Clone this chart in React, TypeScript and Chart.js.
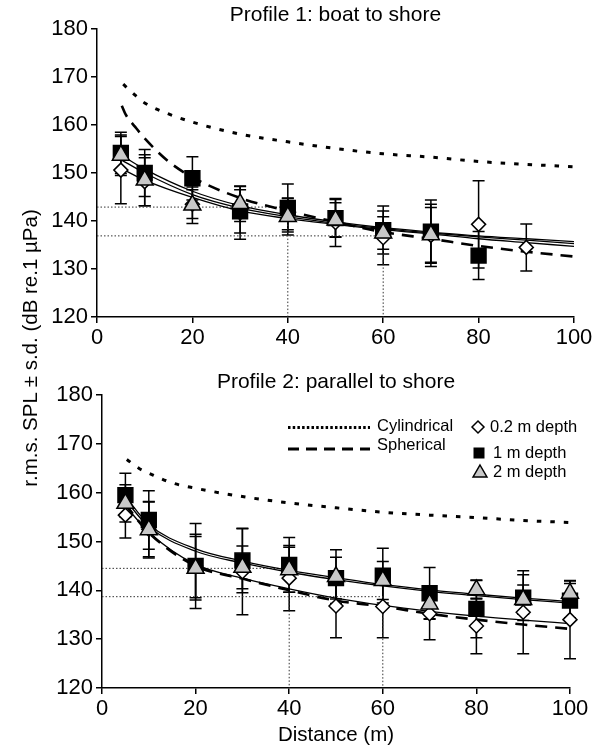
import React, { useEffect, useRef } from 'react';
import { Chart, registerables } from 'chart.js';

Chart.register(...registerables);

const FONT = '"Liberation Sans", Arial, Helvetica, sans-serif';

// ---------- Profile 1: boat to shore ----------
const p1Dist02 = [5, 10, 20, 30, 40, 50, 60, 70, 80, 90];
const p1Mean02 = [150.6, 148.2, 143.5, 141.7, 141.5, 139.7, 136.5, 137.0, 139.3, 134.5];
const p1Sd02 = [7.0, 5.0, 3.0, 5.5, 3.3, 5.0, 5.6, 6.5, 9.1, 4.9];

const p1Dist1 = [5, 10, 20, 30, 40, 50, 60, 70, 80];
const p1Mean1 = [154.2, 150.0, 148.9, 142.0, 142.7, 140.6, 138.1, 137.8, 132.8];
const p1Sd1 = [4.3, 4.9, 4.5, 4.5, 5.0, 3.9, 5.0, 6.6, 5.0];

const p1Dist2 = [5, 10, 20, 30, 40, 50, 60, 70];
const p1Mean2 = [153.7, 148.5, 143.3, 143.6, 140.9, 140.2, 137.5, 137.1];
const p1Sd2 = [4.2, 5.3, 3.8, 3.7, 3.8, 3.6, 3.4, 5.7];

const fitX = [5, 10, 20, 30, 40, 50, 60, 70, 80, 90, 100];
const p1Fit1 = [153.8, 150.8, 146.2, 143.2, 141.3, 139.8, 138.6, 137.7, 136.9, 136.3, 135.7];
const p1Fit2 = [152.8, 150.0, 145.5, 142.7, 140.9, 139.5, 138.4, 137.5, 136.7, 136.0, 135.3];
const p1Fit02 = [151.0, 148.5, 144.9, 142.1, 140.5, 139.3, 138.2, 137.3, 136.3, 135.5, 134.7];

const p1CylX = [5.5, 8, 10, 15, 20, 30, 40, 50, 60, 70, 80, 90, 100];
const p1Cyl = [168.5, 166.2, 164.6, 162.3, 160.6, 158.1, 156.5, 155.1, 154.0, 153.3, 152.4, 151.8, 151.3];
const p1SphX = [5.2, 6, 8, 10, 15, 20, 30, 40, 50, 60, 70, 80, 90, 100];
const p1Sph = [164.0, 162.2, 159.6, 157.2, 152.4, 149.1, 144.8, 142.1, 139.8, 137.7, 136.3, 134.8, 133.6, 132.6];

const p1RefLevels = [142.9, 136.9];
const p1RefDist = [40, 60];

// ---------- Profile 2: parallel to shore ----------
const p2Dist = [5, 10, 20, 30, 40, 50, 60, 70, 80, 90, 100];
const p2Mean02 = [155.4, 152.5, 145.0, 143.8, 142.5, 136.8, 136.7, 135.2, 132.7, 135.5, 134.0];
const p2Sd02 = [4.7, 5.6, 6.5, 8.8, 6.7, 6.5, 6.4, 5.3, 5.7, 8.5, 8.0];
const p2Mean1 = [159.5, 154.4, 145.0, 146.1, 145.2, 142.5, 143.0, 139.4, 136.2, 138.5, 137.9];
const p2Sd1 = [4.5, 6.0, 8.7, 6.6, 5.6, 4.3, 5.6, 5.3, 5.9, 4.7, 3.5];
const p2Mean2 = [157.8, 152.4, 144.5, 144.7, 144.2, 142.8, 142.0, 137.2, 140.1, 138.1, 139.4];
const p2Sd2 = [3.8, 5.8, 6.5, 4.4, 4.6, 5.5, 3.9, 3.0, 1.9, 3.0, 2.5];

const p2Fit1 = [159.2, 153.5, 148.5, 146.0, 144.1, 142.6, 141.2, 140.1, 139.2, 138.4, 137.7];
const p2Fit2 = [158.5, 153.0, 148.0, 145.6, 143.7, 142.2, 140.9, 139.8, 138.9, 138.1, 137.4];
const p2Fit02 = [157.3, 151.9, 145.3, 142.5, 140.3, 138.4, 136.9, 135.7, 134.7, 133.9, 133.2];

const p2CylX = [5.3, 8, 10, 15, 20, 30, 40, 50, 60, 70, 80, 90, 100];
const p2Cyl = [166.8, 164.9, 164.0, 162.0, 160.9, 159.2, 157.9, 156.9, 156.0, 155.4, 154.9, 154.3, 153.9];
const p2SphX = [5, 10, 20, 30, 40, 50, 60, 70, 80, 90, 100];
const p2Sph = [157.6, 151.8, 145.0, 142.4, 140.0, 137.9, 136.7, 135.2, 134.0, 133.0, 132.1];

const p2RefLevels = [144.5, 138.7];
const p2RefDist = [40, 60];

const xTicks = [0, 20, 40, 60, 80, 100];
const yTicks = [120, 130, 140, 150, 160, 170, 180];

const legendLines = ['Cylindrical', 'Spherical'];
const legendMarkers = ['0.2 m depth', '1 m depth', '2 m depth'];

// ---------- helpers ----------
const pts = (xs: number[], ys: number[]) => xs.map((x, i) => ({ x, y: ys[i] }));

const markerDs = (xs: number[], ys: number[], sd: number[], kind: string) => {
  const base: any = {
    data: pts(xs, ys),
    sd,
    showLine: false,
    borderColor: '#000',
    borderWidth: 1.5,
    clip: false,
  };
  if (kind === 'diamond') return { ...base, pointStyle: 'rectRot', pointRadius: 7, backgroundColor: '#fff' };
  if (kind === 'square') return { ...base, pointStyle: 'rect', pointRadius: 10.5, backgroundColor: '#000' };
  return { ...base, pointStyle: 'triangle', pointRadius: 9.8, backgroundColor: '#c8c8c8' };
};

const curveDs = (xs: number[], ys: number[], width: number, dash: number[]) => ({
  data: pts(xs, ys),
  showLine: true,
  pointRadius: 0,
  borderColor: '#000',
  borderWidth: width,
  borderDash: dash,
  cubicInterpolationMode: 'monotone',
  fill: false,
});

const refDs = (levels: number[], dists: number[]) => {
  const out: any[] = [];
  levels.forEach((lv, i) => {
    const d = dists[i];
    out.push({ data: [{ x: 0, y: lv }, { x: d, y: lv }], showLine: true, pointRadius: 0, borderColor: '#333', borderWidth: 1, borderDash: [1.5, 2], tension: 0 });
    out.push({ data: [{ x: d, y: lv }, { x: d, y: 120 }], showLine: true, pointRadius: 0, borderColor: '#333', borderWidth: 1, borderDash: [1.5, 2], tension: 0 });
  });
  return out;
};

const errorBarPlugin = {
  id: 'errorBars',
  beforeDatasetsDraw(chart: any) {
    const ctx = chart.ctx;
    const ys = chart.scales.y;
    chart.data.datasets.forEach((ds: any, i: number) => {
      if (!ds.sd) return;
      const meta = chart.getDatasetMeta(i);
      meta.data.forEach((el: any, j: number) => {
        const v = ds.data[j].y;
        const s = ds.sd[j];
        const x = el.x;
        const y1 = ys.getPixelForValue(v + s);
        const y2 = ys.getPixelForValue(v - s);
        ctx.save();
        ctx.strokeStyle = '#000';
        ctx.lineWidth = 1.5;
        ctx.beginPath();
        ctx.moveTo(x, y1); ctx.lineTo(x, y2);
        ctx.moveTo(x - 6, y1); ctx.lineTo(x + 6, y1);
        ctx.moveTo(x - 6, y2); ctx.lineTo(x + 6, y2);
        ctx.stroke();
        ctx.restore();
      });
    });
  },
};

const drawDiamond = (ctx: any, x: number, y: number, r: number) => {
  ctx.beginPath();
  ctx.moveTo(x - r, y); ctx.lineTo(x, y - r); ctx.lineTo(x + r, y); ctx.lineTo(x, y + r); ctx.closePath();
  ctx.fillStyle = '#fff'; ctx.fill(); ctx.stroke();
};
const drawSquare = (ctx: any, x: number, y: number, h: number) => {
  ctx.fillStyle = '#000';
  ctx.fillRect(x - h, y - h, 2 * h, 2 * h);
};
const drawTriangle = (ctx: any, x: number, y: number, r: number) => {
  ctx.beginPath();
  ctx.moveTo(x, y - r); ctx.lineTo(x + 0.866 * r, y + 0.5 * r); ctx.lineTo(x - 0.866 * r, y + 0.5 * r); ctx.closePath();
  ctx.fillStyle = '#c8c8c8'; ctx.fill(); ctx.stroke();
};

const textPlugin = (title: string, titleY: number, withLegend: boolean, xTitle: string | null) => ({
  id: 'texts',
  afterDraw(chart: any) {
    const ctx = chart.ctx;
    const a = chart.chartArea;
    const cx = (a.left + a.right) / 2;
    ctx.save();
    ctx.fillStyle = '#000';
    ctx.textAlign = 'center';
    ctx.textBaseline = 'middle';
    ctx.font = `21px ${FONT}`;
    ctx.fillText(title, cx, titleY);
    if (xTitle) {
      ctx.font = `20.5px ${FONT}`;
      ctx.fillText(xTitle, cx, 369);
    }
    if (withLegend) {
      ctx.strokeStyle = '#000';
      ctx.lineWidth = 3;
      ctx.setLineDash([2.5, 2.2]);
      ctx.beginPath(); ctx.moveTo(288, 61.5); ctx.lineTo(370, 61.5); ctx.stroke();
      ctx.setLineDash([11, 7]);
      ctx.beginPath(); ctx.moveTo(288, 83); ctx.lineTo(370, 83); ctx.stroke();
      ctx.setLineDash([]);
      ctx.font = `16.5px ${FONT}`;
      ctx.textAlign = 'left';
      ctx.fillText(legendLines[0], 377, 60);
      ctx.fillText(legendLines[1], 377, 79);
      ctx.lineWidth = 1.5;
      drawDiamond(ctx, 478, 61, 6);
      drawSquare(ctx, 479, 87, 5.5);
      drawTriangle(ctx, 480, 107, 8);
      ctx.fillStyle = '#000';
      ctx.fillText(legendMarkers[0], 490, 61);
      ctx.fillText(legendMarkers[1], 493, 87);
      ctx.fillText(legendMarkers[2], 493, 106);
    }
    ctx.restore();
  },
});

const makeConfig = (opts: any) => {
  const tickFont = { size: 22, family: FONT };
  return {
    type: 'scatter',
    data: { datasets: opts.datasets },
    options: {
      animation: false,
      responsive: false,
      events: [],
      layout: { padding: { top: opts.top, right: opts.right, left: 0, bottom: 0 } },
      plugins: { legend: { display: false }, tooltip: { enabled: false }, title: { display: false } },
      scales: {
        x: {
          type: 'linear',
          min: 0,
          max: 100,
          afterBuildTicks: (s: any) => { s.ticks = xTicks.map((v) => ({ value: v })); },
          ticks: { color: '#000', font: tickFont, padding: 2, maxRotation: 0 },
          grid: { drawOnChartArea: false, color: '#000', lineWidth: 1.5, tickLength: 6 },
          border: { display: true, color: '#000', width: 1.5 },
          afterFit: (s: any) => { s.height = opts.xHeight; },
        },
        y: {
          type: 'linear',
          min: 120,
          max: 180,
          afterBuildTicks: (s: any) => { s.ticks = yTicks.map((v) => ({ value: v })); },
          ticks: { color: '#000', font: tickFont, padding: 3 },
          grid: { drawOnChartArea: false, color: '#000', lineWidth: 1.5, tickLength: 6 },
          border: { display: true, color: '#000', width: 1.5 },
          afterFit: (s: any) => { s.width = opts.yWidth; },
        },
      },
    },
    plugins: [errorBarPlugin, textPlugin(opts.title, opts.titleY, opts.legend, opts.xTitle)],
  };
};

const panel1 = () =>
  makeConfig({
    title: 'Profile 1: boat to shore',
    titleY: 15,
    legend: false,
    xTitle: null,
    top: 29,
    right: 26,
    yWidth: 97,
    xHeight: 43,
    datasets: [
      markerDs(p1Dist2, p1Mean2, p1Sd2, 'triangle'),
      markerDs(p1Dist1, p1Mean1, p1Sd1, 'square'),
      markerDs(p1Dist02, p1Mean02, p1Sd02, 'diamond'),
      curveDs(fitX, p1Fit1, 1.3, []),
      curveDs(fitX, p1Fit2, 1.3, []),
      curveDs(fitX, p1Fit02, 1.3, []),
      curveDs(p1CylX, p1Cyl, 3, [4.5, 9]),
      curveDs(p1SphX, p1Sph, 2.6, [12, 8]),
      ...refDs(p1RefLevels, p1RefDist),
    ],
  });

const panel2 = () =>
  makeConfig({
    title: 'Profile 2: parallel to shore',
    titleY: 16,
    legend: true,
    xTitle: 'Distance (m)',
    top: 29,
    right: 30,
    yWidth: 102,
    xHeight: 62,
    datasets: [
      markerDs(p2Dist, p2Mean2, p2Sd2, 'triangle'),
      markerDs(p2Dist, p2Mean1, p2Sd1, 'square'),
      markerDs(p2Dist, p2Mean02, p2Sd02, 'diamond'),
      curveDs(fitX, p2Fit1, 1.3, []),
      curveDs(fitX, p2Fit2, 1.3, []),
      curveDs(fitX, p2Fit02, 1.3, []),
      curveDs(p2CylX, p2Cyl, 3, [4.5, 9]),
      curveDs(p2SphX, p2Sph, 2.6, [12, 8]),
      ...refDs(p2RefLevels, p2RefDist),
    ],
  });

function Panel({ make, top, height }: { make: () => any; top: number; height: number }) {
  const ref = useRef<HTMLCanvasElement | null>(null);
  useEffect(() => {
    if (!ref.current) return;
    const chart = new Chart(ref.current, make());
    return () => chart.destroy();
  }, [make]);
  return (
    <canvas
      ref={ref}
      width={600}
      height={height}
      style={{ position: 'absolute', left: 0, top, width: 600, height }}
    />
  );
}

export default function App() {
  return (
    <div style={{ position: 'absolute', left: 0, top: 0, width: 600, height: 750, background: '#fff', overflow: 'hidden' }}>
      <Panel make={panel1} top={0} height={360} />
      <Panel make={panel2} top={366} height={384} />
      <div
        style={{
          position: 'absolute',
          left: 30 - 200,
          top: 348 - 13,
          width: 400,
          height: 26,
          lineHeight: '26px',
          textAlign: 'center',
          transform: 'rotate(-90deg)',
          fontFamily: FONT,
          fontSize: 20.5,
          color: '#000',
          whiteSpace: 'nowrap',
        }}
      >
        r.m.s. SPL ± s.d. (dB re.1 µPa)
      </div>
    </div>
  );
}
